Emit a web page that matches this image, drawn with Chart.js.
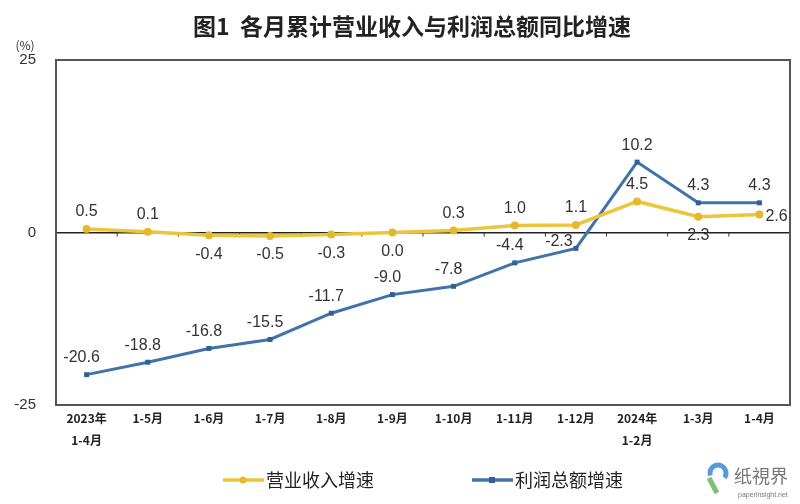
<!DOCTYPE html>
<html><head><meta charset="utf-8">
<script src="https://cdn.jsdelivr.net/npm/chart.js@4.4.1/dist/chart.umd.min.js"></script>
<style>html,body{margin:0;padding:0;background:#fff}#wrap{width:800px;height:504px}</style>
</head><body><div id="wrap"><canvas id="c" width="800" height="504"></canvas></div>
<script>
const categories = [["2023年","1-4月"],"1-5月","1-6月","1-7月","1-8月","1-9月","1-10月","1-11月","1-12月",["2024年","1-2月"],"1-3月","1-4月"];
const revenueGrowth = [0.5, 0.1, -0.4, -0.5, -0.3, 0.0, 0.3, 1.0, 1.1, 4.5, 2.3, 2.6];
const profitGrowth = [-20.6, -18.8, -16.8, -15.5, -11.7, -9.0, -7.8, -4.4, -2.3, 10.2, 4.3, 4.3];
const yTicks = [-25, 0, 25];
const seriesNames = ["营业收入增速", "利润总额增速"];
const titleText = "图1  各月累计营业收入与利润总额同比增速";
const unitText = "(%)";

const revLabelPos = ['above','above','below','below','below','below','above','above','above','above','below','right'];
const profLabelPos = ['aboveL','aboveL','aboveL','aboveL','aboveL','aboveL','aboveL','aboveL','leftUp','above','above','above'];

const labelPlugin = {
  id: 'valueLabels',
  afterDatasetsDraw(chart) {
    const ctx = chart.ctx;
    ctx.save();
    ctx.font = '16px "Liberation Sans", Arial, sans-serif';
    ctx.fillStyle = '#333';
    ctx.textBaseline = 'middle';
    chart.data.datasets.forEach((ds, di) => {
      const meta = chart.getDatasetMeta(di);
      const pos = di === 0 ? revLabelPos : profLabelPos;
      meta.data.forEach((pt, i) => {
        const v = ds.data[i];
        let x = pt.x, y = pt.y;
        ctx.textAlign = 'center';
        const p = pos[i];
        if (p === 'above') { y -= 17; }
        else if (p === 'aboveL') { y -= 17; x -= 5; }
        else if (p === 'leftUp') { y -= 7; x -= 17; }
        else if (p === 'below') { y += 19; }
        else if (p === 'right') { ctx.textAlign = 'left'; x += 6; y += 2; }
        ctx.fillText(v.toFixed(1), x, y);
      });
    });
    ctx.restore();
  }
};

const framePlugin = {
  id: 'frame',
  beforeDatasetsDraw(chart) {
    const {ctx, scales} = chart;
    ctx.save();
    const y0 = scales.y.getPixelForValue(0);
    ctx.strokeStyle = '#333';
    ctx.lineWidth = 1;
    const xs = scales.x;
    for (let i = 1; i < categories.length; i++) {
      const bx = (xs.getPixelForValue(i - 1) + xs.getPixelForValue(i)) / 2;
      ctx.beginPath(); ctx.moveTo(bx, y0); ctx.lineTo(bx, y0 + 4); ctx.stroke();
    }
    ctx.restore();
  },
  afterDraw(chart) {
    const {ctx, chartArea: a} = chart;
    ctx.save();
    ctx.strokeStyle = '#555';
    ctx.lineWidth = 2;
    ctx.strokeRect(a.left, a.top, a.right - a.left, a.bottom - a.top);
    // title
    ctx.fillStyle = '#222';
    ctx.textAlign = 'center';
    ctx.textBaseline = 'middle';
    ctx.font = 'bold 23px "Noto Sans CJK SC", sans-serif';
    ctx.fillText(titleText, 412, 26);
    // unit
    ctx.font = '12px "Noto Sans CJK SC", sans-serif';
    ctx.fillStyle = '#333';
    ctx.fillText(unitText, 25, 45);
    // legend
    const legendX = [223, 472];
    ctx.font = '18px "Noto Sans CJK SC", sans-serif';
    ctx.textAlign = 'left';
    chart.data.datasets.forEach((ds, i) => {
      const x = legendX[i], y = 480;
      ctx.strokeStyle = ds.borderColor;
      ctx.lineWidth = 3.5;
      ctx.beginPath(); ctx.moveTo(x, y); ctx.lineTo(x + 41, y); ctx.stroke();
      ctx.fillStyle = ds.backgroundColor;
      if (i === 0) { ctx.beginPath(); ctx.arc(x + 20, y, 3.5, 0, Math.PI * 2); ctx.fill(); }
      else { ctx.fillRect(x + 17, y - 3, 6, 6); }
      ctx.fillStyle = '#222';
      ctx.fillText(ds.label, x + 43, y);
    });
    // watermark
    ctx.lineWidth = 5;
    ctx.strokeStyle = '#5b9bd5';
    ctx.beginPath(); ctx.arc(718, 473, 8, Math.PI * 0.9, Math.PI * 2.2); ctx.stroke();
    ctx.strokeStyle = '#7cc07a';
    ctx.beginPath(); ctx.moveTo(709, 478); ctx.lineTo(717, 493); ctx.stroke();
    ctx.fillStyle = '#777';
    ctx.font = '18px "Noto Sans CJK SC", sans-serif';
    ctx.fillText('纸視界', 734, 476);
    ctx.font = '7px "Liberation Sans", sans-serif';
    ctx.fillText('paperinsight.net', 738, 495);
    ctx.restore();
  }
};

new Chart(document.getElementById('c'), {
  type: 'line',
  data: {
    labels: categories,
    datasets: [
      { label: seriesNames[0], data: revenueGrowth, borderColor: '#EBC53C', backgroundColor: '#E2B930',
        borderWidth: 3.5, pointRadius: 4, pointStyle: 'circle', pointBorderWidth: 0, tension: 0 },
      { label: seriesNames[1], data: profitGrowth, borderColor: '#4173A8', backgroundColor: '#2F5F94',
        borderWidth: 3, pointRadius: 3.5, pointStyle: 'rect', pointBorderWidth: 0, tension: 0 }
    ]
  },
  options: {
    responsive: false,
    animation: false,
    devicePixelRatio: 1,
    layout: { padding: { left: 0, right: 10, top: 60, bottom: 0 } },
    plugins: {
      title: { display: false },
      legend: { display: false },
      tooltip: { enabled: false }
    },
    scales: {
      x: {
        offset: true,
        grid: { display: false, drawTicks: false },
        border: { display: false },
        ticks: { color: '#222', padding: 3, maxRotation: 0, autoSkip: false,
          font: { family: '"Noto Sans CJK SC", sans-serif', size: 12, weight: 'bold', lineHeight: 1.8 } },
        afterFit(s) { s.height = 99; }
      },
      y: {
        min: -25, max: 25,
        afterBuildTicks(s) { s.ticks = yTicks.map(v => ({ value: v })); },
        grid: { drawTicks: false, color: ctx => ctx.tick && ctx.tick.value === 0 ? '#222' : 'transparent', lineWidth: 1.5 },
        border: { display: false },
        ticks: { color: '#333', padding: 20,
          font: { family: '"Liberation Sans Narrow", "Liberation Sans", sans-serif', size: 15 } },
        afterFit(s) { s.width = 56; }
      }
    }
  },
  plugins: [framePlugin, labelPlugin]
});
</script>
</body></html>
